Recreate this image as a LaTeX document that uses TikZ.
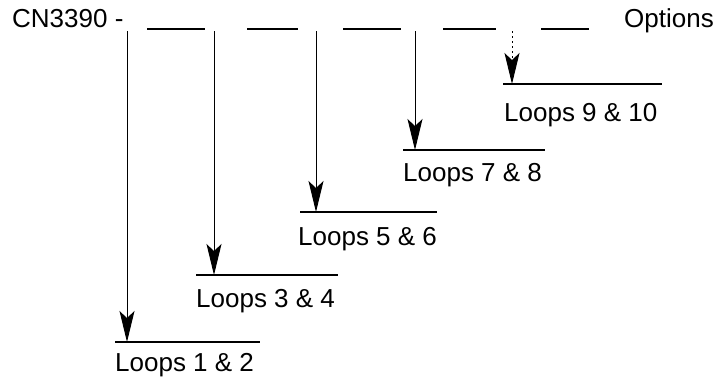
\documentclass[tikz,border=0pt]{standalone}
\usepackage{fontspec}
\setmainfont{Liberation Sans}
\usetikzlibrary{arrows.meta}
\begin{document}
\begin{tikzpicture}[x=1pt,y=-1pt,
  lbl/.style={anchor=base west,inner sep=0pt,font=\fontsize{26}{30}\selectfont},
  bar/.style={line width=1.8pt},
  hdr/.style={line width=1.4pt},
  drop/.style={line width=1pt,-{Stealth[length=31pt,width=15pt,inset=7pt]}},
  faintdrop/.style={drop,dash pattern=on 2pt off 3pt}]
\useasboundingbox (0,0) rectangle (716,376);

% header labels
\node[lbl] (cn) at (12,27) {CN3390 -};
\node[lbl] (opt) at (624,27) {Options};

% dashed option rail
\foreach \a/\b in {147/205,247/298,343/401,443/496,541/589}
  \draw[hdr] (\a,29) -- (\b,29);

% branch points on the rail
\coordinate (t1) at (127,31);
\coordinate (t2) at (214,31);
\coordinate (t3) at (316,31);
\coordinate (t4) at (415,31);
\coordinate (t5) at (512,31);

% loop bars
\coordinate (b1l) at (115,342); \coordinate (b1r) at (260,342);
\coordinate (b2l) at (196,275); \coordinate (b2r) at (338,275);
\coordinate (b3l) at (300,212); \coordinate (b3r) at (437,212);
\coordinate (b4l) at (403,150); \coordinate (b4r) at (545,150);
\coordinate (b5l) at (503,84);  \coordinate (b5r) at (662,84);
\foreach \i in {1,...,5} \draw[bar] (b\i l) -- (b\i r);

% arrow tips on the bars
\coordinate (h1) at (127,342);
\coordinate (h2) at (214,275);
\coordinate (h3) at (316,212);
\coordinate (h4) at (415,150);
\coordinate (h5) at (512,84);

\draw[drop] (t1) -- (h1);
\draw[drop] (t2) -- (h2);
\draw[drop] (t3) -- (h3);
\draw[drop] (t4) -- (h4);
\draw[faintdrop] (t5) -- (h5);

% loop labels
\node[lbl] (l1) at (115,371) {Loops 1 \& 2};
\node[lbl] (l2) at (196,307) {Loops 3 \& 4};
\node[lbl] (l3) at (298,245) {Loops 5 \& 6};
\node[lbl] (l4) at (403,181) {Loops 7 \& 8};
\node[lbl] (l5) at (504,121) {Loops 9 \& 10};
\end{tikzpicture}
\end{document}
